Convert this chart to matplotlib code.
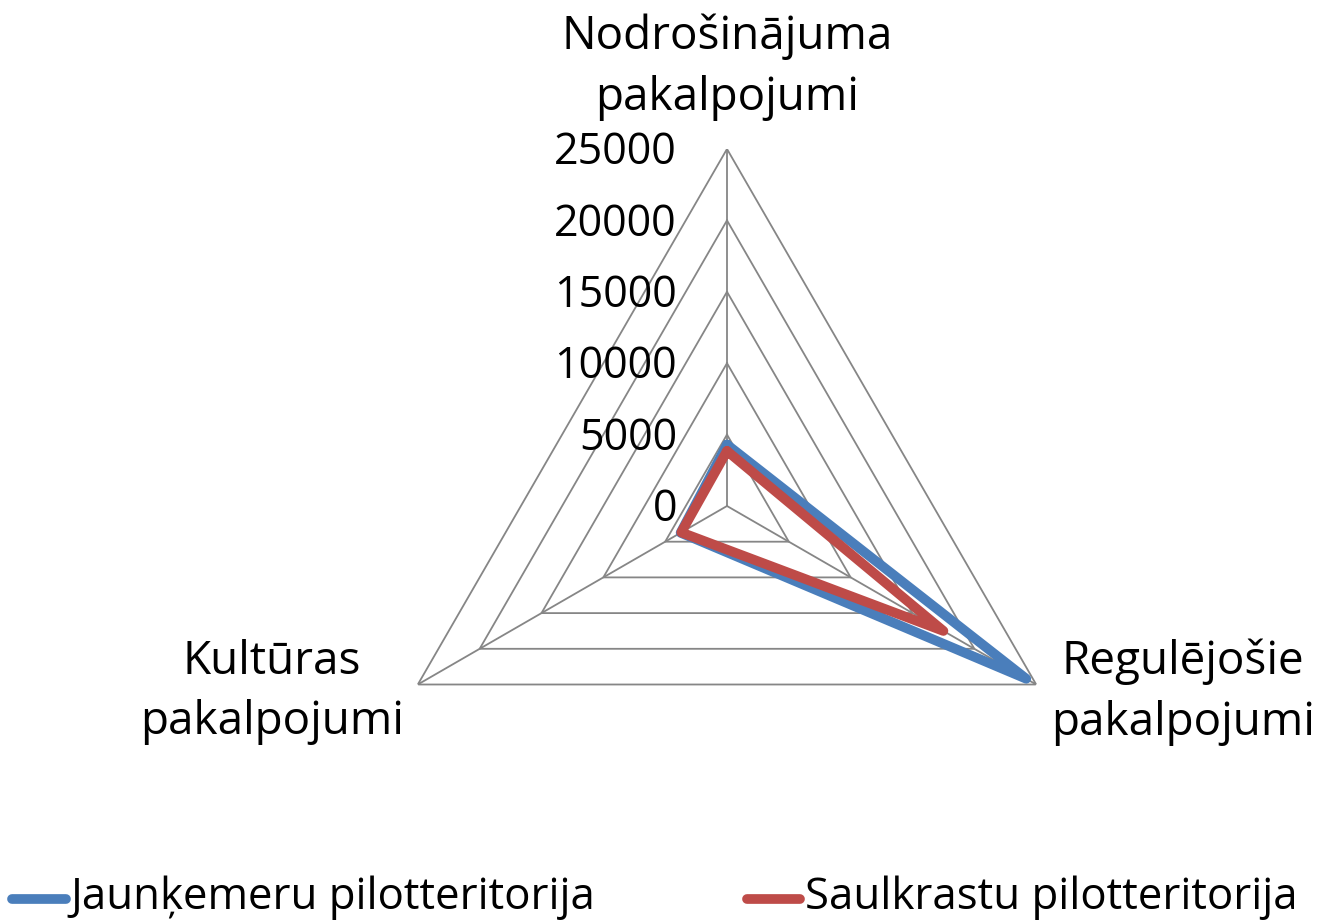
import numpy as np
import matplotlib
matplotlib.use("Agg")
import matplotlib.pyplot as plt
from matplotlib import font_manager

categories = ["Nodrošinājuma\npakalpojumi", "Regulējošie\npakalpojumi", "Kultūras\npakalpojumi"]
series_names = ["Jaunķemeru pilotteritorija", "Saulkrastu pilotteritorija"]
jaunkemeru = [4300, 24200, 3750]
saulkrastu = [3850, 17500, 3700]
levels = [0, 5000, 10000, 15000, 20000, 25000]
tick_labels = ["0", "5000", "10000", "15000", "20000", "25000"]

names = {f.name for f in font_manager.fontManager.ttflist}
main_font = "Open Sans" if "Open Sans" in names else "DejaVu Sans"
plt.rcParams['font.family'] = [main_font, 'DejaVu Sans']

W, H = 1332, 921
fig = plt.figure(figsize=(W / 100, H / 100), dpi=100)
cx, cy, R = 727, 506, 357
ax = fig.add_axes([(cx - R) / W, (H - cy - R) / H, 2 * R / W, 2 * R / H], projection='polar')
ax.set_theta_zero_location('N')
ax.set_theta_direction(-1)
ax.set_ylim(0, levels[-1])
ax.grid(False)
ax.spines['polar'].set_visible(False)
ax.set_xticks([])
ax.set_yticks([])
ax.patch.set_alpha(0)

n = len(categories)
angles = np.arange(n) * 2 * np.pi / n
closed = np.append(angles, angles[0])
grid_color = '#868686'
for lv in levels[1:]:
    ax.plot(closed, [lv] * (n + 1), color=grid_color, lw=1.3, zorder=1)
for a in angles:
    ax.plot([a, a], [0, levels[-1]], color=grid_color, lw=1.3, zorder=1)

colors = ['#4A7EBB', '#BE4B48']
for vals, col, name in zip([jaunkemeru, saulkrastu], colors, series_names):
    ax.plot(closed, vals + [vals[0]], color=col, lw=7, solid_joinstyle='round',
            solid_capstyle='round', zorder=3, label=name)

def px(x, y):
    return x / W, 1 - y / H

for lv, lab in zip(levels, tick_labels):
    ypix = cy - lv / levels[-1] * R + 4
    fig.text(*px(677, ypix), lab, ha='right', va='center', fontsize=31)

label_pos = [(727, 67), (1183, 692), (272, 692)]
for cat, (x, y) in zip(categories, label_pos):
    fig.text(*px(x, y), cat, ha='center', va='center', fontsize=33, linespacing=1.42)

# legend
legend_items = [(12, 66, 70), (747, 800, 805)]
for (x0, x1, tx), col, name in zip(legend_items, colors, series_names):
    fig.add_artist(plt.Line2D([x0 / W, x1 / W], [1 - 899 / H] * 2, color=col, lw=7,
                              solid_capstyle='round', transform=fig.transFigure))
    fig.text(*px(tx, 909), name, ha='left', va='baseline', fontsize=31.5)

fig.savefig("out.png", dpi=100)
